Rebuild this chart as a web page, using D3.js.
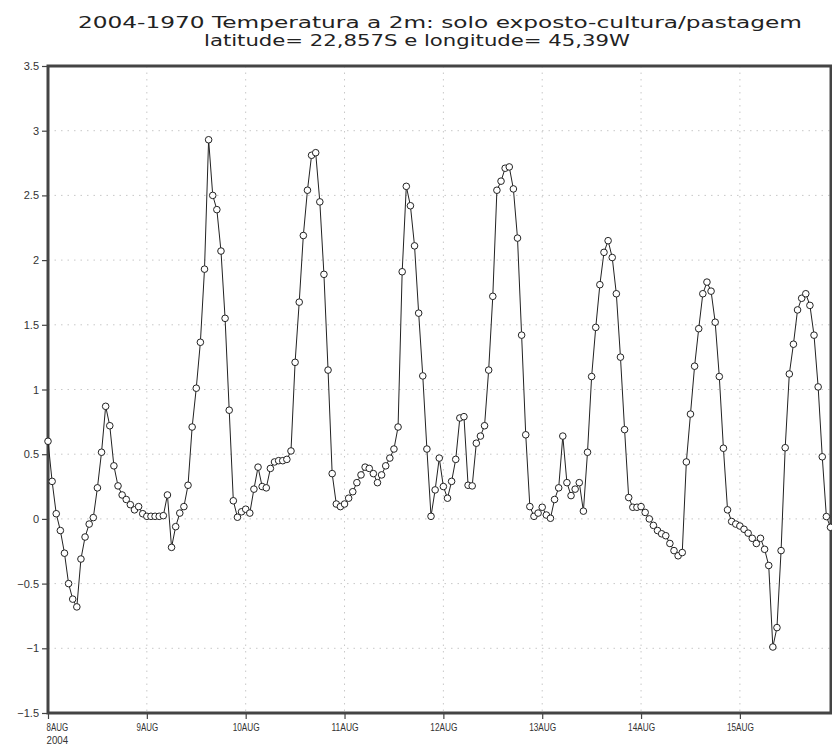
<!DOCTYPE html>
<html>
<head>
<meta charset="utf-8">
<script src="https://cdn.jsdelivr.net/npm/d3@7"></script>
<style>
  html, body { margin: 0; padding: 0; background: #fff; }
  svg { display: block; }
</style>
</head>
<body>
<script>
// ---- data ----
const titleLines = [
  "2004-1970 Temperatura a 2m: solo exposto-cultura/pastagem",
  "latitude= 22,857S e longitude= 45,39W"
];
const dayLabels = ["8AUG", "9AUG", "10AUG", "11AUG", "12AUG", "13AUG", "14AUG", "15AUG"];
const dayHours = [0, 24, 48, 72, 96, 120, 144, 168];
const yearLabel = "2004";
const yTicks = [-1.5, -1, -0.5, 0, 0.5, 1, 1.5, 2, 2.5, 3, 3.5];
// hourly values starting 8AUG2004 00Z
const values = [
  0.60, 0.29, 0.04, -0.09, -0.265, -0.50, -0.62, -0.68, -0.31, -0.14,
  -0.04, 0.01, 0.24, 0.515, 0.87, 0.72, 0.41, 0.255, 0.185, 0.15,
  0.11, 0.07, 0.095, 0.04, 0.02, 0.02, 0.02, 0.02, 0.025, 0.185,
  -0.22, -0.06, 0.045, 0.095, 0.26, 0.71, 1.01, 1.365, 1.93, 2.93,
  2.50, 2.39, 2.07, 1.55, 0.84, 0.14, 0.013, 0.055, 0.075, 0.045,
  0.23, 0.40, 0.25, 0.24, 0.39, 0.44, 0.45, 0.45, 0.46, 0.525,
  1.21, 1.675, 2.19, 2.54, 2.81, 2.83, 2.45, 1.89, 1.15, 0.35,
  0.115, 0.095, 0.115, 0.16, 0.21, 0.28, 0.34, 0.40, 0.39, 0.35,
  0.28, 0.34, 0.41, 0.47, 0.54, 0.71, 1.91, 2.57, 2.42, 2.11,
  1.59, 1.105, 0.54, 0.02, 0.224, 0.47, 0.25, 0.16, 0.29, 0.46,
  0.78, 0.79, 0.26, 0.255, 0.585, 0.64, 0.72, 1.15, 1.72, 2.54,
  2.61, 2.71, 2.72, 2.55, 2.17, 1.42, 0.65, 0.095, 0.02, 0.045,
  0.09, 0.03, 0.005, 0.15, 0.24, 0.64, 0.28, 0.18, 0.23, 0.28,
  0.06, 0.515, 1.10, 1.48, 1.81, 2.06, 2.15, 2.02, 1.74, 1.25,
  0.69, 0.165, 0.09, 0.09, 0.095, 0.05, 0.0, -0.05, -0.09, -0.115,
  -0.13, -0.19, -0.245, -0.285, -0.26, 0.44, 0.81, 1.18, 1.47, 1.74,
  1.83, 1.76, 1.52, 1.10, 0.546, 0.07, -0.02, -0.04, -0.055, -0.08,
  -0.11, -0.15, -0.19, -0.15, -0.235, -0.36, -0.99, -0.84, -0.245, 0.55,
  1.12, 1.35, 1.615, 1.705, 1.74, 1.65, 1.42, 1.02, 0.48, 0.018,
  -0.065
];
const hours = values.map((v, i) => i);

// ---- layout ----
const W = 832, H = 749;
const mLeft = 48, mRight = 831, mTop = 66, mBottom = 713;

const svg = d3.select("body").append("svg").attr("width", W).attr("height", H);

const x = d3.scaleLinear().domain([0, hours.length - 1]).range([mLeft, mRight - 0.5]);
const y = d3.scaleLinear().domain([-1.5, 3.5]).range([mBottom, mTop]);

// grid
const grid = svg.append("g").attr("stroke", "#c8c8c8").attr("stroke-width", 1)
  .attr("stroke-dasharray", "1.5,5");
grid.selectAll("line.h").data(yTicks.slice(1, -1)).join("line")
  .attr("x1", mLeft).attr("x2", mRight)
  .attr("y1", d => y(d)).attr("y2", d => y(d));
grid.selectAll("line.v").data(dayHours.slice(1)).join("line")
  .attr("y1", mTop).attr("y2", mBottom)
  .attr("x1", d => x(d)).attr("x2", d => x(d));

// y axis
const yAxis = d3.axisLeft(y).tickValues(yTicks).tickSize(5).tickPadding(3)
  .tickFormat(d => d3.format("")(d).replace("-", "\u2212"));
const gy = svg.append("g").attr("transform", `translate(${mLeft - 1},0)`).call(yAxis);
gy.select(".domain").remove();
gy.selectAll(".tick line").attr("stroke", "#444").attr("stroke-width", 1.2);
gy.selectAll(".tick text").attr("font-family", "Liberation Sans, Arial, sans-serif")
  .attr("font-size", 11).attr("fill", "#333");

// x axis
const xAxis = d3.axisBottom(x).tickValues(dayHours).tickSize(5).tickPadding(4)
  .tickFormat((d, i) => dayLabels[i]);
const gx = svg.append("g").attr("transform", `translate(0,${mBottom + 1})`).call(xAxis);
gx.select(".domain").remove();
gx.selectAll(".tick line").attr("stroke", "#444").attr("stroke-width", 1.2);
gx.selectAll(".tick text").attr("font-family", "Liberation Sans, Arial, sans-serif")
  .attr("font-size", 11.5).attr("fill", "#333")
  .attr("textLength", (d, i) => dayLabels[i].length * 5.4)
  .attr("lengthAdjust", "spacingAndGlyphs");
// first label is left-aligned like the reference
gx.selectAll(".tick").filter((d, i) => i === 0).select("text")
  .attr("text-anchor", "start").attr("x", -2);
gx.selectAll(".tick").filter((d, i) => i === 0).append("text")
  .attr("text-anchor", "start").attr("x", -2).attr("y", 22).attr("dy", "0.71em")
  .attr("font-family", "Liberation Sans, Arial, sans-serif")
  .attr("font-size", 11.5).attr("fill", "#333")
  .attr("textLength", yearLabel.length * 5.4).attr("lengthAdjust", "spacingAndGlyphs")
  .text(yearLabel);

// frame
svg.append("rect").attr("x", mLeft).attr("y", mTop)
  .attr("width", mRight - mLeft).attr("height", mBottom - mTop)
  .attr("fill", "none").attr("stroke", "#444").attr("stroke-width", 3);

// line
const line = d3.line().x((d, i) => x(hours[i])).y(d => y(d));
svg.append("path").datum(values).attr("d", line)
  .attr("fill", "none").attr("stroke", "#222").attr("stroke-width", 1);

// markers
svg.append("g").selectAll("circle").data(values).join("circle")
  .attr("cx", (d, i) => x(hours[i])).attr("cy", d => y(d)).attr("r", 3.3)
  .attr("fill", "#fff").attr("stroke", "#222").attr("stroke-width", 1);

// title
const title = svg.append("g").attr("font-family", "DejaVu Sans, sans-serif")
  .attr("font-size", 15).attr("fill", "#222");
title.append("text").attr("x", 78).attr("y", 27.5)
  .attr("textLength", 724).attr("lengthAdjust", "spacingAndGlyphs").text(titleLines[0]);
title.append("text").attr("x", 204).attr("y", 46)
  .attr("textLength", 426).attr("lengthAdjust", "spacingAndGlyphs").text(titleLines[1]);
</script>
</body>
</html>
